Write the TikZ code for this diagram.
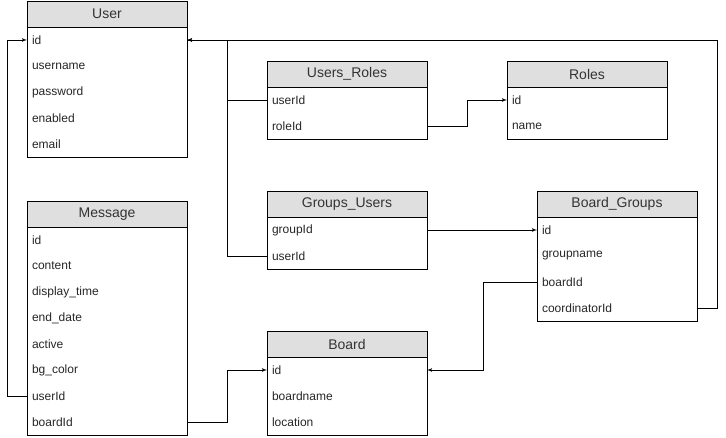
\documentclass[tikz,border=0pt]{standalone}
\usepackage{fontspec}
\setmainfont{Liberation Sans}
\usetikzlibrary{arrows,positioning}

\begin{document}
\begin{tikzpicture}[x=1pt,y=-1pt,>=latex',line width=0.8pt]
	\tikzset{hdr/.style={draw, fill=gray!25, minimum width=160pt, minimum height=26pt, inner sep=0pt, outer sep=0pt, text=black!80, font=\fontsize{14}{16}\selectfont},
		fld/.style={minimum width=160pt, minimum height=26pt, inner ysep=0pt, inner xsep=5pt, outer sep=0pt, text width=150pt, align=left, text=black!85, font=\fontsize{12}{14}\selectfont},
	}
	\useasboundingbox (0,0) rectangle (726,438);
	% User
	\node [hdr] (user) at (107,14) {User};
	\node [fld, below = 0pt of user] (user1) {id};
	\node [fld, below = 0pt of user1] (user2) {username};
	\node [fld, below = 0pt of user2] (user3) {password};
	\node [fld, below = 0pt of user3] (user4) {enabled};
	\node [fld, below = 0pt of user4] (user5) {email};
	\draw (user.south west) rectangle (user5.south east);
	% Message
	\node [hdr] (msg) at (107,214) {Message};
	\node [fld, below = 0pt of msg] (msg1) {id};
	\node [fld, below = 0pt of msg1] (msg2) {content};
	\node [fld, below = 0pt of msg2] (msg3) {display\_time};
	\node [fld, below = 0pt of msg3] (msg4) {end\_date};
	\node [fld, below = 0pt of msg4] (msg5) {active};
	\node [fld, below = 0pt of msg5] (msg6) {bg\_color};
	\node [fld, below = 0pt of msg6] (msg7) {userId};
	\node [fld, below = 0pt of msg7] (msg8) {boardId};
	\draw (msg.south west) rectangle (msg8.south east);
	% Users_Roles
	\node [hdr] (ur) at (347,74) {Users\_Roles};
	\node [fld, below = 0pt of ur] (ur1) {userId};
	\node [fld, below = 0pt of ur1] (ur2) {roleId};
	\draw (ur.south west) rectangle (ur2.south east);
	% Roles
	\node [hdr] (roles) at (587,74) {Roles};
	\node [fld, below = 0pt of roles] (roles1) {id};
	\node [fld, below = 0pt of roles1] (roles2) {name};
	\draw (roles.south west) rectangle (roles2.south east);
	% Groups_Users
	\node [hdr] (gu) at (347,204) {Groups\_Users};
	\node [fld, below = 0pt of gu] (gu1) {groupId};
	\node [fld, below = 0pt of gu1] (gu2) {userId};
	\draw (gu.south west) rectangle (gu2.south east);
	% Board_Groups
	\node [hdr] (bg) at (617,204) {Board\_Groups};
	\node [fld, below = 0pt of bg] (bg1) {id};
	\node [fld, below = 0pt of bg1] (bg2) {groupname};
	\node [fld, below = 0pt of bg2] (bg3) {boardId};
	\node [fld, below = 0pt of bg3] (bg4) {coordinatorId};
	\draw (bg.south west) rectangle (bg4.south east);
	% Board
	\node [hdr] (board) at (347,344) {Board};
	\node [fld, below = 0pt of board] (board1) {id};
	\node [fld, below = 0pt of board1] (board2) {boardname};
	\node [fld, below = 0pt of board2] (board3) {location};
	\draw (board.south west) rectangle (board3.south east);
	% relations
	\draw [->] (msg7.west) -- ++(-20,0) |- (user1.west);
	\draw [->] (ur1.west) -- ++(-40,0) |- (user1.east);
	\draw (gu2.west) -- ++(-40,0) |- (user1.east);
	\draw [->] (bg4.east) -- ++(20,0) |- (user1.east);
	\draw [->] (ur2.east) -- ++(40,0) |- (roles1.west);
	\draw [->] (gu1.east) -- (bg1.west);
	\draw [->] (bg3.west) -- ++(-54,0) |- (board1.east);
	\draw [->] (msg8.east) -- ++(40,0) |- (board1.west);
\end{tikzpicture}
\end{document}
